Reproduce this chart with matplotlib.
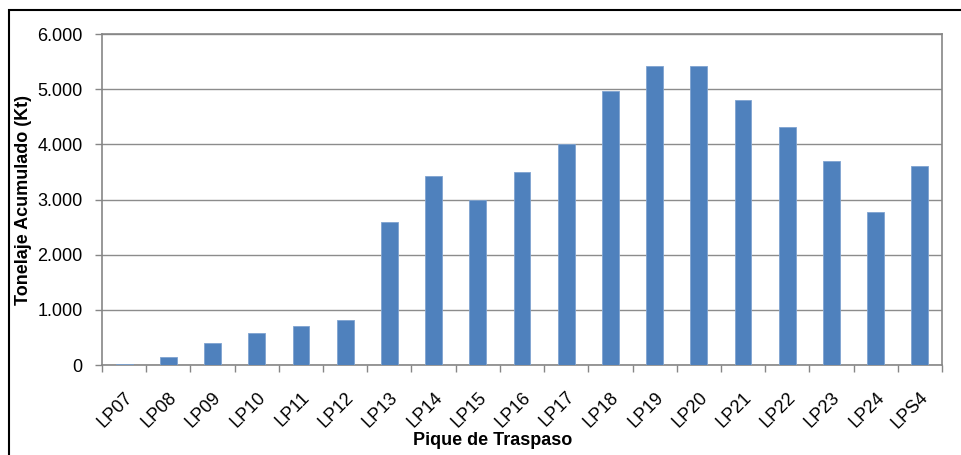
import matplotlib
matplotlib.use("Agg")
import matplotlib.pyplot as plt
from matplotlib.patches import Rectangle
import numpy as np

categories = ["LP07", "LP08", "LP09", "LP10", "LP11", "LP12", "LP13", "LP14", "LP15",
              "LP16", "LP17", "LP18", "LP19", "LP20", "LP21", "LP22", "LP23", "LP24", "LPS4"]
values = [15, 140, 390, 580, 700, 820, 2600, 3420, 3000,
          3490, 4010, 4960, 5420, 5420, 4810, 4320, 3700, 2780, 3610]
yticks = [0, 1000, 2000, 3000, 4000, 5000, 6000]
ytick_labels = ["0", "1.000", "2.000", "3.000", "4.000", "5.000", "6.000"]

plt.rcParams['font.family'] = ['Liberation Sans', 'DejaVu Sans']

W, H = 961, 455
fig = plt.figure(figsize=(W / 100, H / 100), dpi=100)
fig.patch.set_facecolor("white")

# outer frame
fig.patches.append(Rectangle((9 / W, -0.1), 2.0, 1 - 10 / H + 0.1, transform=fig.transFigure,
                             fill=False, edgecolor="black", linewidth=1.5))

left, right, top, bottom = 102, 942, 34, 365
ax = fig.add_axes([left / W, 1 - bottom / H, (right - left) / W, (bottom - top) / H])

x = np.arange(len(categories))
ax.bar(x, values, width=0.38, color="#4F81BD", edgecolor="#7FA3D0", linewidth=0.6, zorder=3)

ax.set_xlim(-0.5, len(categories) - 0.5)
ax.set_ylim(0, 6000)
ax.set_yticks(yticks)
ax.set_yticklabels(ytick_labels, fontsize=13)
ax.yaxis.grid(True, color="#8C8C8C", linewidth=1.0, zorder=0)

ax.set_xticks(x)
ax.set_xticklabels(categories, rotation=45, ha="right", va="top", rotation_mode="anchor", fontsize=13)
ax.tick_params(axis="x", which="major", length=0, pad=17)
ax.set_xticks(np.arange(-0.5, len(categories)), minor=True)
ax.tick_params(axis="x", which="minor", length=5, color="#868686", width=1.0)
ax.tick_params(axis="y", length=5, color="#868686", width=1.0, pad=9)

for s in ["left", "bottom", "right", "top"]:
    ax.spines[s].set_color("#868686")
    ax.spines[s].set_linewidth(1.2)

ax.set_xlabel("Pique de Traspaso", fontsize=13, fontweight="bold")
ax.xaxis.set_label_coords((493 - left) / (right - left), (bottom - 432) / (bottom - top))
ax.set_ylabel("Tonelaje Acumulado (Kt)", fontsize=13, fontweight="bold")
ax.yaxis.set_label_coords((32 - left) / (right - left), 0.5)

fig.savefig("out.png", dpi=100, facecolor="white")
